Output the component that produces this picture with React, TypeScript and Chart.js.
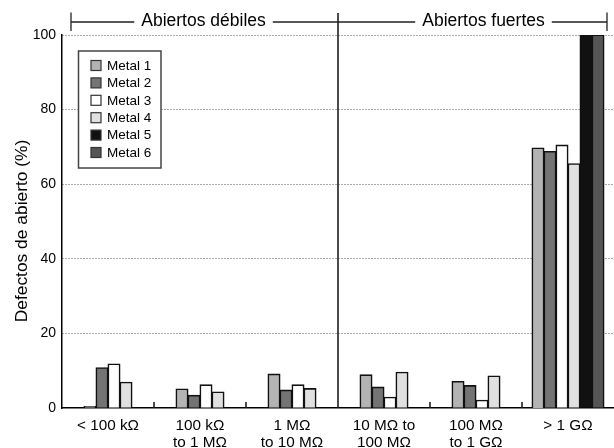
import React, { useEffect, useRef } from "react";
import { Chart, registerables } from "chart.js";

Chart.register(...registerables);

const categories: string[][] = [
  ["< 100 kΩ"],
  ["100 kΩ", "to 1 MΩ"],
  ["1 MΩ", "to 10 MΩ"],
  ["10 MΩ to", "100 MΩ"],
  ["100 MΩ", "to 1 GΩ"],
  ["> 1 GΩ"],
];

const metal1 = [0.4, 5.1, 9.1, 8.9, 7.1, 69.7];
const metal2 = [10.8, 3.4, 4.8, 5.6, 6.0, 68.8];
const metal3 = [11.8, 6.2, 6.2, 2.9, 2.1, 70.5];
const metal4 = [6.9, 4.3, 5.2, 9.6, 8.6, 65.5];
const metal5 = [null, null, null, null, null, 100];
const metal6 = [null, null, null, null, null, 100];

const seriesNames = ["Metal 1", "Metal 2", "Metal 3", "Metal 4", "Metal 5", "Metal 6"];
const seriesColors = ["#b3b3b3", "#747474", "#ffffff", "#e0e0e0", "#111111", "#555555"];

const yMin = 0;
const yMax = 100;
const yStep = 20;

const groupTitles = ["Abiertos débiles", "Abiertos fuertes"];
const yTitle = "Defectos de abierto (%)";

const FONT = "'Liberation Sans', Arial, Helvetica, sans-serif";

const overlayPlugin = {
  id: "overlay",
  afterDraw(chart: any) {
    const { ctx, chartArea } = chart;
    const xs = chart.scales.x;
    const px = (i: number) => xs.getPixelForValue(i);
    const boundary = (i: number) => (px(i) + px(i + 1)) / 2;
    ctx.save();

    // boundary ticks at bottom
    ctx.strokeStyle = "#111";
    ctx.lineWidth = 1.5;
    [0, 1, 3, 4].forEach((i) => {
      const x = boundary(i);
      ctx.beginPath();
      ctx.moveTo(x, chartArea.bottom);
      ctx.lineTo(x, chartArea.bottom - 6);
      ctx.stroke();
    });

    // divider line
    const mid = boundary(2);
    ctx.beginPath();
    ctx.moveTo(mid, 13);
    ctx.lineTo(mid, chartArea.bottom);
    ctx.stroke();

    // header
    const hy = 22;
    const hl = chartArea.left + 9;
    const hr = chartArea.right - 7;
    ctx.lineWidth = 1.3;
    ctx.strokeStyle = "#222";
    ctx.beginPath();
    ctx.moveTo(hl, 12.5);
    ctx.lineTo(hl, 31);
    ctx.moveTo(hr, 12.5);
    ctx.lineTo(hr, 31);
    ctx.stroke();

    ctx.font = `17.5px ${FONT}`;
    ctx.fillStyle = "#000";
    ctx.textBaseline = "middle";
    ctx.textAlign = "center";
    const centers = [(hl + mid) / 2 - 1, (mid + hr) / 2 + 11];
    const segs = [
      [hl, mid],
      [mid, hr],
    ];
    groupTitles.forEach((t, k) => {
      const w = ctx.measureText(t).width;
      const c = centers[k];
      ctx.fillText(t, c, hy - 1);
      ctx.beginPath();
      ctx.moveTo(segs[k][0], hy);
      ctx.lineTo(c - w / 2 - 7, hy);
      ctx.moveTo(c + w / 2 + 7, hy);
      ctx.lineTo(segs[k][1], hy);
      ctx.stroke();
    });

    // legend
    const lx = 78.5, ly = 51, lw = 82.5, lh = 117;
    ctx.fillStyle = "#fff";
    ctx.fillRect(lx, ly, lw, lh);
    ctx.strokeStyle = "#444";
    ctx.lineWidth = 1.5;
    ctx.strokeRect(lx, ly, lw, lh);
    ctx.font = `13.5px ${FONT}`;
    ctx.textAlign = "left";
    chart.data.datasets.forEach((ds: any, i: number) => {
      const cy = 65.5 + i * 17.4;
      ctx.fillStyle = ds.backgroundColor;
      ctx.fillRect(91, cy - 5, 10, 10);
      ctx.strokeStyle = "#333";
      ctx.lineWidth = 1.2;
      ctx.strokeRect(91, cy - 5, 10, 10);
      ctx.fillStyle = "#000";
      ctx.fillText(ds.label, 107, cy + 0.5);
    });

    // y title
    ctx.translate(22.5, 231);
    ctx.rotate(-Math.PI / 2);
    ctx.font = `17.4px ${FONT}`;
    ctx.textAlign = "center";
    ctx.textBaseline = "middle";
    ctx.fillStyle = "#000";
    ctx.fillText(yTitle, 0, 0);
    ctx.restore();
  },
};

export default function App() {
  const ref = useRef<HTMLCanvasElement | null>(null);

  useEffect(() => {
    document.body.style.margin = "0";
    const series = [metal1, metal2, metal3, metal4, metal5, metal6];
    const chart = new Chart(ref.current as HTMLCanvasElement, {
      type: "bar",
      data: {
        labels: categories,
        datasets: series.map((d, i) => ({
          label: seriesNames[i],
          data: d,
          backgroundColor: seriesColors[i],
          borderColor: "#111111",
          borderWidth: 1.6,
          barThickness: 12,
          barPercentage: 1,
          categoryPercentage: 1,
          inflateAmount: 0.5,
        })),
      },
      options: {
        responsive: false,
        animation: false,
        skipNull: true,
        layout: { padding: { top: 35, right: 0, left: 0, bottom: 0 } },
        plugins: {
          legend: { display: false },
          tooltip: { enabled: false },
        },
        scales: {
          x: {
            grid: { display: false, drawTicks: false },
            border: { display: true, color: "#000", width: 1.5 },
            ticks: {
              color: "#000",
              font: { family: FONT, size: 15.3, lineHeight: 1.13 },
              padding: 9,
              maxRotation: 0,
              autoSkip: false,
            },
            afterFit: (s: any) => {
              s.height = 40;
            },
          },
          y: {
            min: yMin,
            max: yMax,
            ticks: {
              stepSize: yStep,
              color: "#000",
              font: { family: FONT, size: 14 },
              padding: 6,
            },
            grid: {
              drawTicks: false,
              color: (c: any) => (c.tick && c.tick.value === 0 ? "rgba(0,0,0,0)" : "#555"),
              lineWidth: 1,
            },
            border: { display: true, color: "#000", width: 1.5, dash: [1, 2] },
            afterFit: (s: any) => {
              s.width = 62;
            },
          },
        },
      } as any,
      plugins: [overlayPlugin],
    });
    return () => chart.destroy();
  }, []);

  return (
    <div style={{ position: "absolute", left: 0, top: 0, width: 614, height: 448 }}>
      <canvas ref={ref} width={614} height={448} />
    </div>
  );
}
